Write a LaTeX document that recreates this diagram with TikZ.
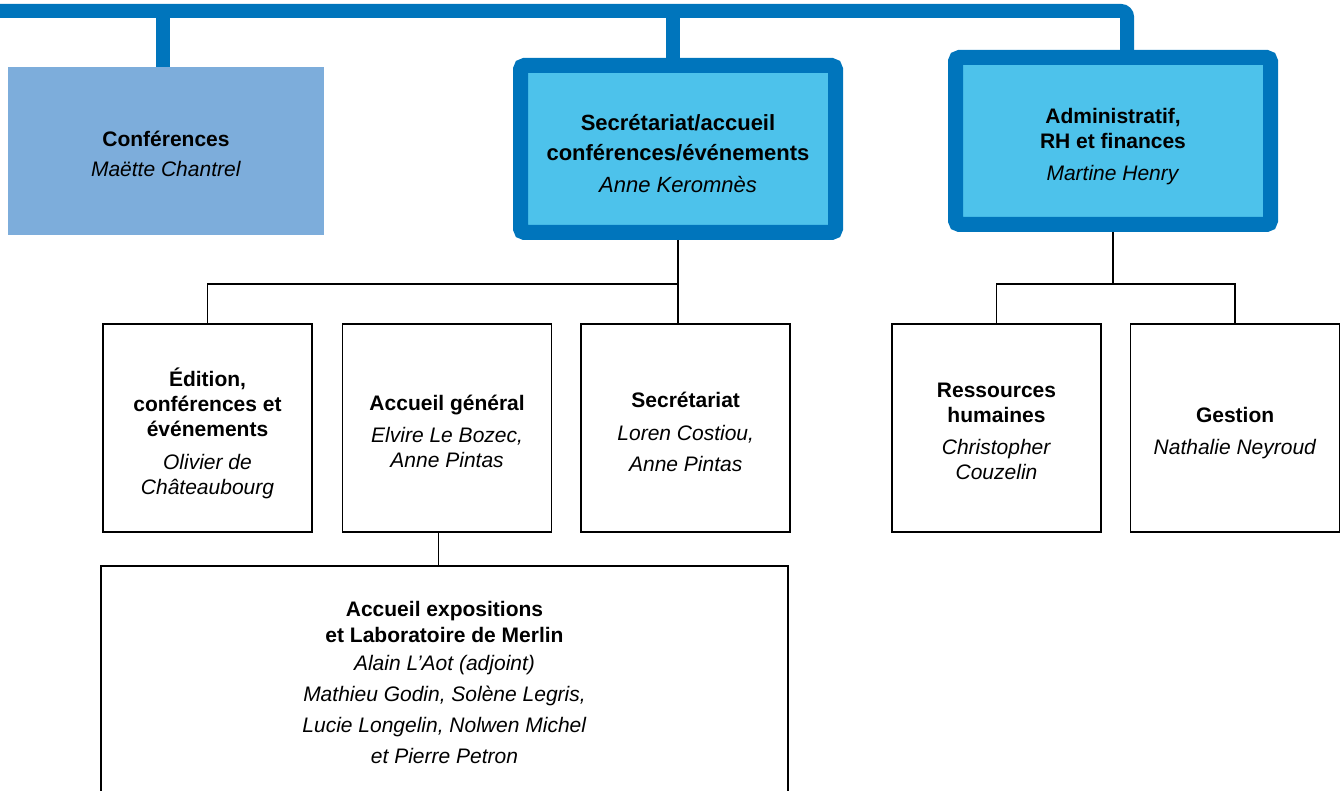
\documentclass[tikz,border=0pt]{standalone}
\usepackage{fontspec}
\setmainfont{Liberation Sans}
\usepackage{tikz}
\usetikzlibrary{positioning}

\definecolor{barblue}{HTML}{0075BC}
\definecolor{skyfill}{HTML}{4DC2EB}
\definecolor{paleblue}{HTML}{7DADDB}

% invisible strut on the first line, pushes the text block down
\newcommand{\padtop}[1]{\rule{0pt}{#1pt}}

\begin{document}
\begin{tikzpicture}[x=1pt,y=-1pt,node distance=29pt,
    font=\fontsize{21}{25}\selectfont]
  \tikzstyle{bar}=[draw=barblue,line width=14pt,rounded corners=6pt]
  \tikzstyle{head}=[draw=barblue,line width=15pt,fill=skyfill,rounded corners=4pt,
                    inner sep=0pt,minimum width=315pt,minimum height=167pt,align=center]
  \tikzstyle{unit}=[draw=black,line width=1.6pt,inner sep=0pt,
                    minimum width=209pt,minimum height=208pt,align=center]
  \tikzstyle{link}=[draw=black,line width=1.3pt]

  \useasboundingbox (0,0) rectangle (1343,791);
  \clip (0,0) rectangle (1343,791);

  %--- Top row ---
  \node[fill=paleblue,inner sep=0pt,minimum width=316pt,minimum height=168pt,align=center]
        (conf) at (166,151) {\padtop{22}\textbf{Conférences}\\[5pt] \textit{Maëtte Chantrel}};
  \node[head,font=\fontsize{22}{30}\selectfont] (secr) at (678,149)
        {\padtop{25}\textbf{Secrétariat/accueil}\\ \textbf{conférences/événements}\\[2pt] \textit{Anne Keromnès}};
  \node[head] (admin) at (1113,141)
        {\padtop{27}\textbf{Administratif,}\\ \textbf{RH et finances}\\[7pt] \textit{Martine Henry}};

  %--- Units under the secretariat ---
  \node[unit] (edit) at (207.5,428)
        {\padtop{29}\textbf{Édition,}\\ \textbf{conférences et}\\ \textbf{événements}\\[8pt]
         \textit{Olivier de}\\ \textit{Châteaubourg}};
  \node[unit] (accg) [right=of edit]
        {\padtop{22}\textbf{Accueil général}\\[7pt] \textit{Elvire Le Bozec,}\\ \textit{Anne Pintas}};
  \node[unit] (secb) [right=28pt of accg]
        {\padtop{24}\textbf{Secrétariat}\\[8pt] \textit{Loren Costiou,}\\[6pt] \textit{Anne Pintas}};
  \node[unit,minimum width=687pt,minimum height=232pt] (expo) at (444.5,682)
        {\textbf{Accueil expositions}\\[1pt] \textbf{et Laboratoire de Merlin}\\[3pt]
         \textit{Alain L’Aot (adjoint)}\\[6pt] \textit{Mathieu Godin, Solène Legris,}\\[6pt]
         \textit{Lucie Longelin, Nolwen Michel}\\[6pt] \textit{et Pierre Petron}};

  %--- Units under administration ---
  \node[unit] (rh) at (996.5,428)
        {\padtop{22}\textbf{Ressources}\\ \textbf{humaines}\\[7pt] \textit{Christopher}\\ \textit{Couzelin}};
  \node[unit] (gest) [right=28pt of rh]
        {\padtop{25}\textbf{Gestion}\\[7pt] \textit{Nathalie Neyroud}};

  %--- Blue bar ---
  \coordinate (barL) at (-10,11);
  \coordinate (confTop) at ([xshift=-3.5pt]conf.north);
  \coordinate (secrTop) at ([xshift=-5.5pt]secr.north);
  \draw[bar] (barL) -| ([xshift=14pt]admin.north);
  \draw[bar] (confTop |- barL) -- (confTop);
  \draw[bar] (secrTop |- barL) -- (secrTop);

  %--- Thin links ---
  \coordinate (tee1) at (678,284);
  \coordinate (tee2) at (1113,284);
  \coordinate (accgBot) at ([xshift=-8.5pt]accg.south);
  \draw[link] (secr.south) -- (tee1) -| (edit.north);
  \draw[link] (tee1) -- (tee1 |- secb.north);
  \draw[link] (accgBot) -- (accgBot |- expo.north);
  \draw[link] (admin.south) -- (tee2);
  \draw[link] (rh.north) |- (tee2) -| (gest.north);
\end{tikzpicture}
\end{document}
